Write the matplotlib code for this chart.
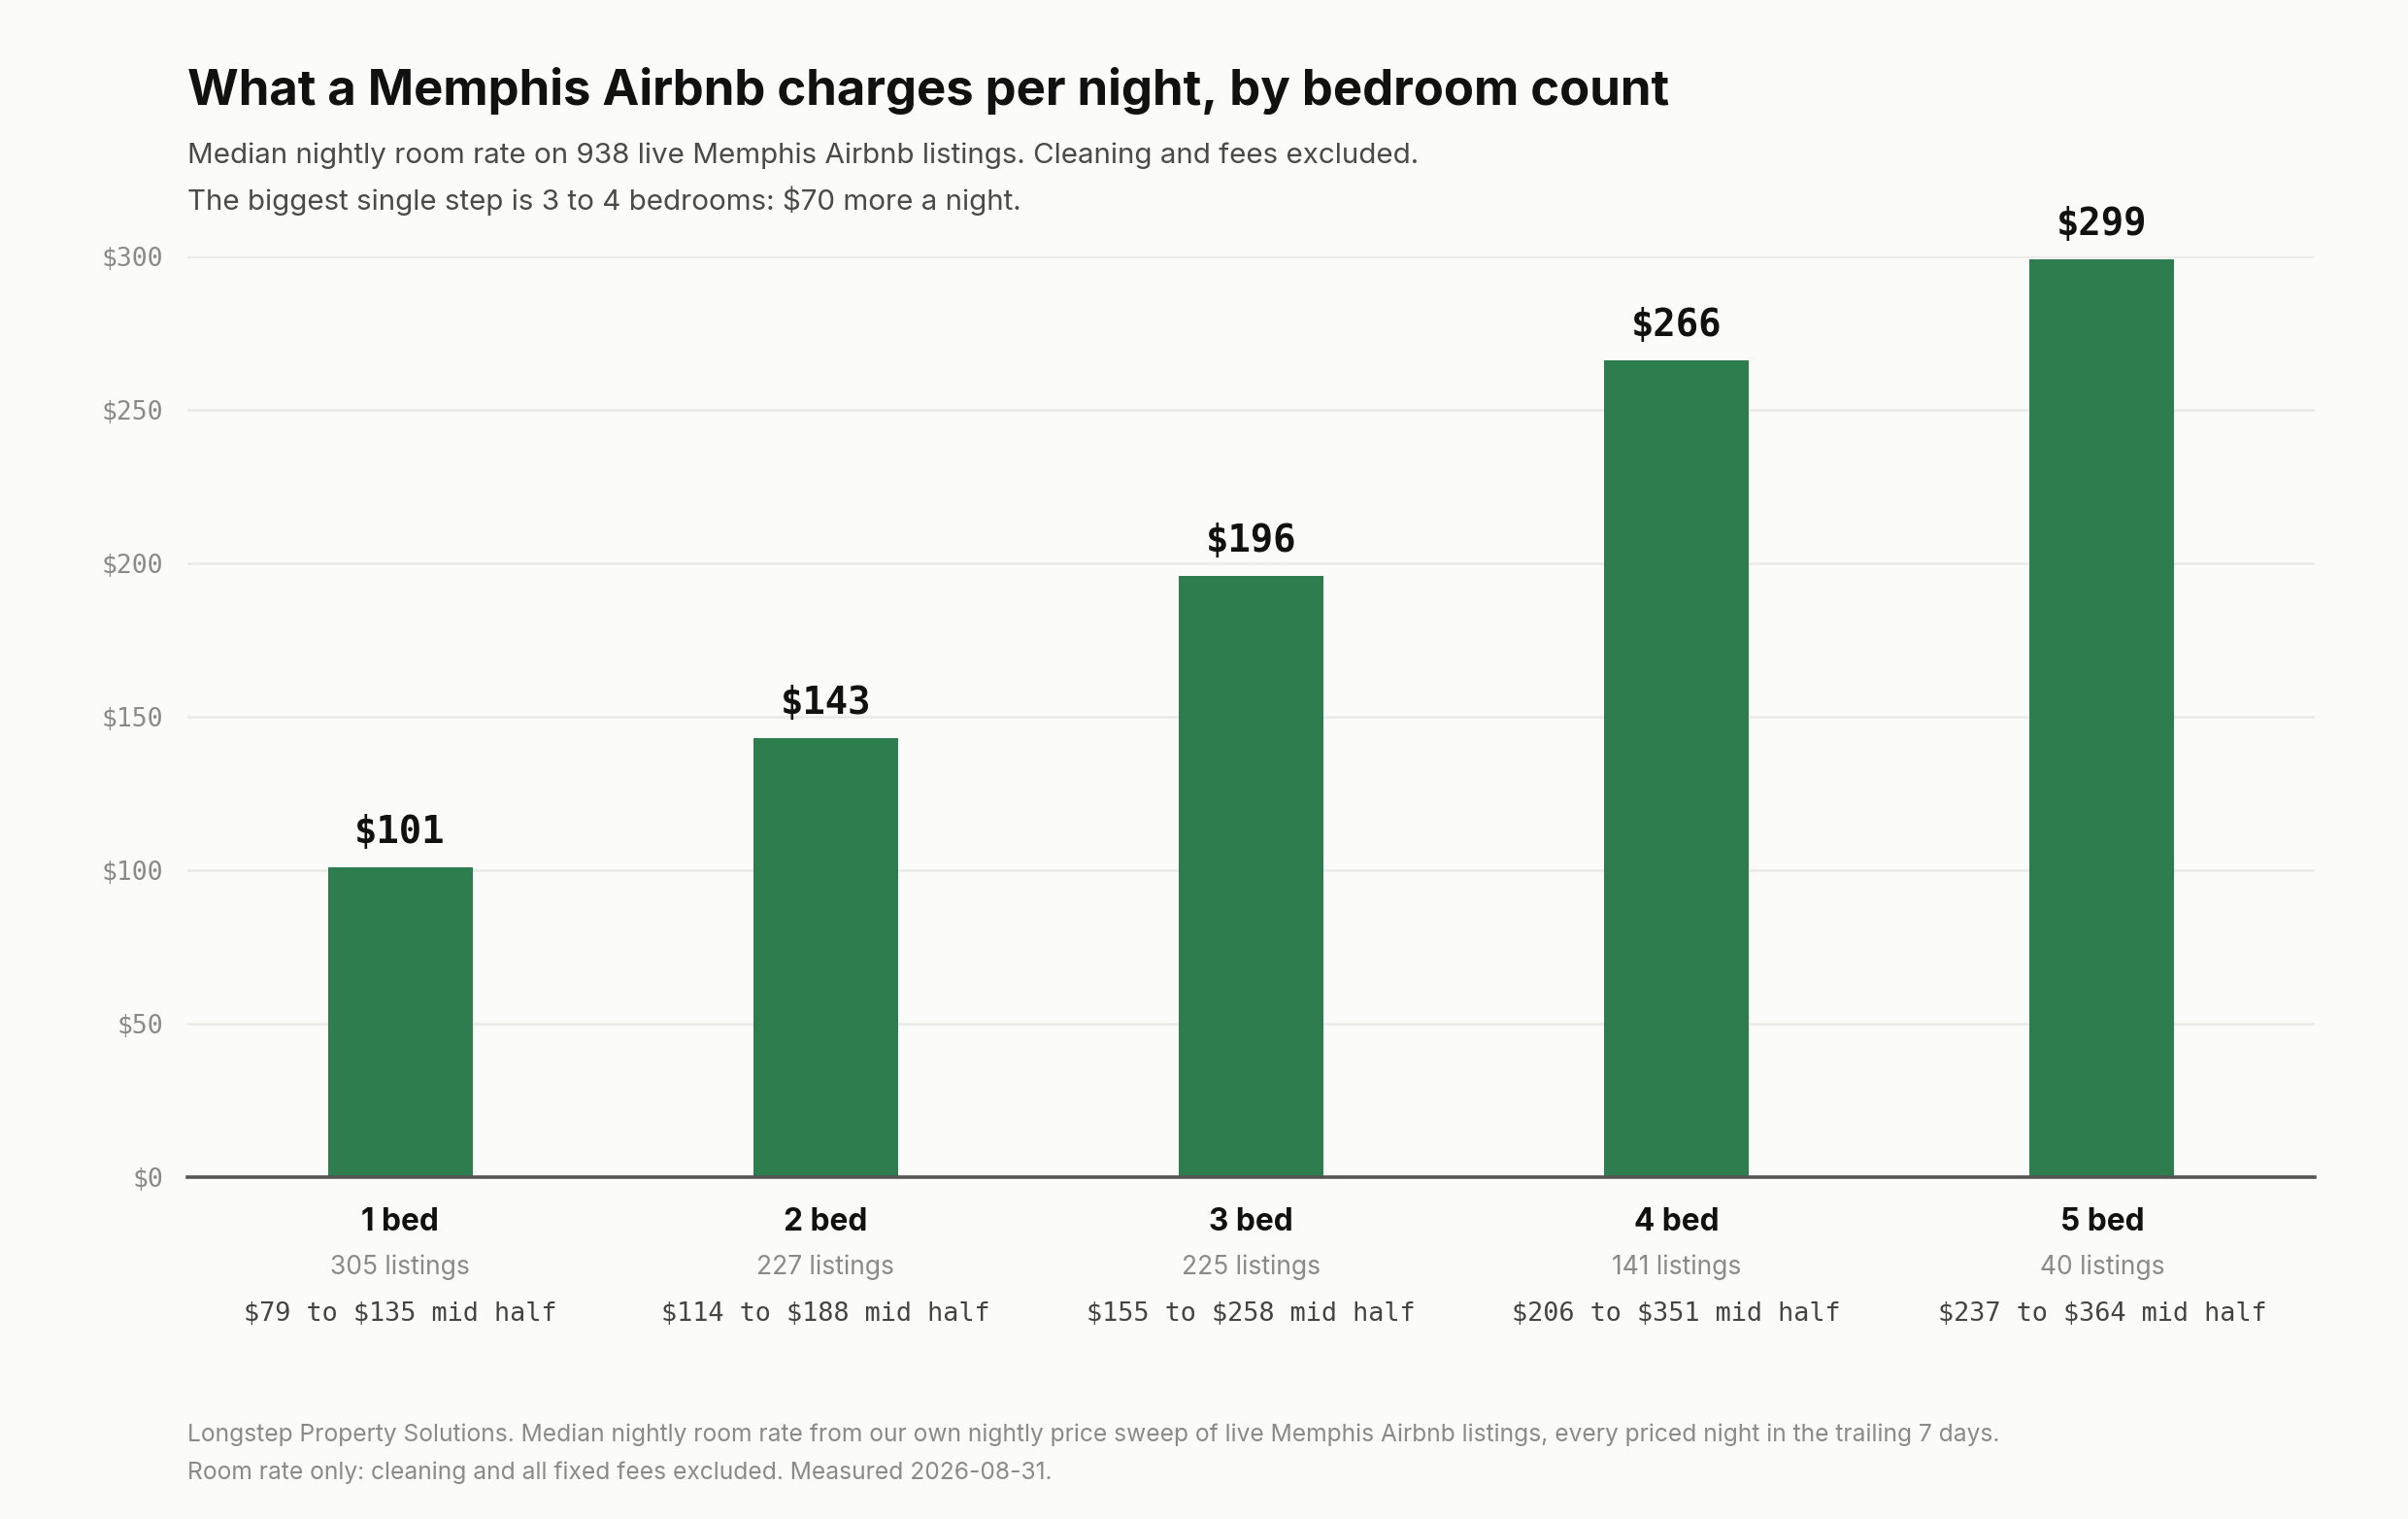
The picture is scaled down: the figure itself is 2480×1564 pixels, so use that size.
import matplotlib.pyplot as plt
from matplotlib.transforms import blended_transform_factory

plt.rcParams["text.parse_math"] = False

# data
beds = ["1 bed", "2 bed", "3 bed", "4 bed", "5 bed"]
median_rate = [101, 143, 196, 266, 299]
listings = [305, 227, 225, 141, 40]
q1 = [79, 114, 155, 206, 237]
q3 = [135, 188, 258, 351, 364]
yticks = [0, 50, 100, 150, 200, 250, 300]

bg = "#fbfbf9"
green = "#2e7d4f"
sans = ["Inter", "DejaVu Sans"]
mono = ["DejaVu Sans Mono"]

W, H, dpi = 2480, 1564, 200
fig = plt.figure(figsize=(W / dpi, H / dpi), dpi=dpi, facecolor=bg)
ax = fig.add_axes([193 / W, 1 - 1212 / H, (2384 - 193) / W, (1212 - 264) / H])
ax.set_facecolor(bg)

x = list(range(len(beds)))
ax.bar(x, median_rate, width=0.34, color=green, zorder=3)
ax.set_xlim(-0.5, len(beds) - 0.5)
ax.set_ylim(0, 300)

ax.set_yticks(yticks)
ax.set_yticklabels([f"${v}" for v in yticks], family=mono, fontsize=9.5, color="#8a8a8a")
ax.tick_params(axis="y", length=0, pad=9)
ax.set_xticks([])
ax.grid(axis="y", color="#ebebe8", linewidth=1.0, zorder=0)
for s in ["top", "right", "left"]:
    ax.spines[s].set_visible(False)
ax.spines["bottom"].set_color("#555555")
ax.spines["bottom"].set_linewidth(1.3)
ax.spines["bottom"].set_zorder(4)

for xi, v in zip(x, median_rate):
    ax.annotate(f"${v}", (xi, v), xytext=(0, 9), textcoords="offset points",
                ha="center", va="baseline", family=mono, fontweight="bold",
                fontsize=14, color="#111111", annotation_clip=False)

tr = blended_transform_factory(ax.transData, fig.transFigure)
for xi, b, n, lo, hi in zip(x, beds, listings, q1, q3):
    ax.text(xi, 1 - 1267 / H, b, transform=tr, ha="center", va="baseline",
            family=sans, fontweight="bold", fontsize=11.4, color="#111111")
    ax.text(xi, 1 - 1312 / H, f"{n} listings", transform=tr, ha="center", va="baseline",
            family=sans, fontsize=9.5, color="#8a8a8a")
    ax.text(xi, 1 - 1360 / H, f"${lo} to ${hi} mid half", transform=tr, ha="center",
            va="baseline", family=mono, fontsize=9.7, color="#444444")

fig.text(193 / W, 1 - 108 / H, "What a Memphis Airbnb charges per night, by bedroom count",
         family=sans, fontweight="bold", fontsize=18.3, color="#111111", va="baseline")
fig.text(193 / W, 1 - 168 / H,
         "Median nightly room rate on 938 live Memphis Airbnb listings. Cleaning and fees excluded.",
         family=sans, fontsize=10.65, color="#4a4a4a", va="baseline")
fig.text(193 / W, 1 - 216 / H,
         "The biggest single step is 3 to 4 bedrooms: $70 more a night.",
         family=sans, fontsize=10.65, color="#4a4a4a", va="baseline")

fig.text(193 / W, 1 - 1484 / H,
         "Longstep Property Solutions. Median nightly room rate from our own nightly price sweep "
         "of live Memphis Airbnb listings, every priced night in the trailing 7 days.",
         family=sans, fontsize=8.85, color="#8a8a8a", va="baseline")
fig.text(193 / W, 1 - 1523 / H,
         "Room rate only: cleaning and all fixed fees excluded. Measured 2026-08-31.",
         family=sans, fontsize=8.85, color="#8a8a8a", va="baseline")

fig.savefig("out.png", dpi=dpi, facecolor=bg)
